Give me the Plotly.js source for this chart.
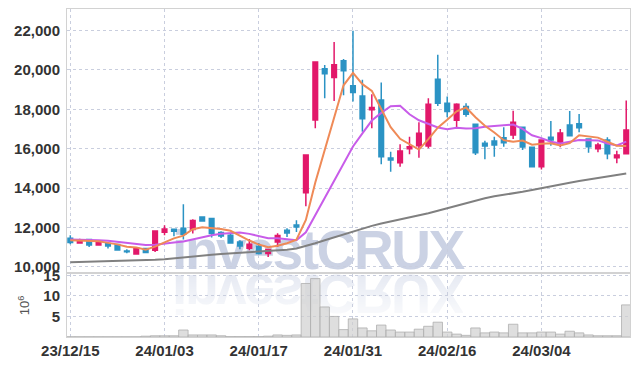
<!DOCTYPE html>
<html><head><meta charset="utf-8">
<script src="https://cdn.plot.ly/plotly-3.0.1.min.js"></script>
<style>
html,body{margin:0;padding:0;background:#fff;}
#wrap{position:relative;width:639px;height:366px;overflow:hidden;}
.wm{position:absolute;left:172px;font-family:"Liberation Sans",Arial,sans-serif;font-weight:bold;font-size:55px;line-height:55px;letter-spacing:-2.4px;white-space:nowrap;z-index:0;}
#wm1{top:223px;color:#cbd2e4;}
#wm2{top:266px;color:#dde2ee;transform:scaleY(-1);-webkit-mask-image:linear-gradient(to top,rgba(0,0,0,0.85),rgba(0,0,0,0.1));mask-image:linear-gradient(to top,rgba(0,0,0,0.85),rgba(0,0,0,0.1));}
#chart{position:absolute;left:0;top:0;width:639px;height:366px;z-index:1;}
</style></head>
<body>
<div id="wrap">
<div class="wm" id="wm1">investCRUX</div>
<div class="wm" id="wm2">investCRUX</div>
<div id="chart"></div>
</div>
<script>
const dates = ["23/12/15","23/12/18","23/12/19","23/12/20","23/12/21","23/12/22","23/12/26","23/12/27","23/12/28","24/01/02",
"24/01/03","24/01/04","24/01/05","24/01/08","24/01/09","24/01/10","24/01/11","24/01/12","24/01/15","24/01/16",
"24/01/17","24/01/18","24/01/19","24/01/22","24/01/23","24/01/24","24/01/25","24/01/26","24/01/29","24/01/30",
"24/01/31","24/02/01","24/02/02","24/02/05","24/02/06","24/02/07","24/02/08","24/02/13","24/02/14","24/02/15",
"24/02/16","24/02/19","24/02/20","24/02/21","24/02/22","24/02/23","24/02/26","24/02/27","24/02/28","24/02/29",
"24/03/04","24/03/05","24/03/06","24/03/07","24/03/08","24/03/11","24/03/12","24/03/13","24/03/14","24/03/15"];

const openP = [11450,11210,11384,11110,11180,11130,10800,10650,10926,10840,
11756,11910,11960,11894,12535,12453,11740,11603,11262,10942,
11043,10672,11262,11858,12126,13757,17457,20053,19610,20460,
19188,18679,17981,18475,15523,15283,15996,16149,16133,19528,
18307,17442,18134,17238,16271,16388,16556,16693,17086,16067,
15080,16577,16301,17202,17270,16490,15996,16439,15538,15741];

const highP = [11600,11420,11400,11330,11230,11150,10890,11008,10950,11830,
12112,11910,13181,12418,12570,12460,11807,11720,11350,11415,
11211,10900,11705,11960,12367,15676,20394,20241,21412,20547,
21987,19493,18765,19355,15843,16220,16607,17340,18561,20765,
18643,18307,18307,17238,16403,16607,17086,17930,17100,16067,
16460,17406,16999,17915,17762,16500,16301,16576,15894,18439];

const lowP = [11150,11180,11008,11080,10930,10850,10690,10650,10700,10750,
11603,11550,11384,11690,12300,11486,11466,11180,10890,10840,
10620,10500,11008,11517,11771,13080,17035,18561,18424,18714,
18388,16861,17035,15202,14825,15080,15711,15538,16016,18170,
17595,17086,17625,15675,15456,15589,16098,16490,15930,15080,
14947,16149,16067,16658,16831,15792,15813,15456,15253,15711];

const closeP = [11230,11380,11110,11300,11060,10855,10770,10957,10723,11820,
11924,11810,11650,12352,12331,11690,11568,11211,11059,11145,
10672,10875,11588,11720,12025,15676,20394,19799,20258,19950,
18846,17523,18083,15588,15421,15879,16098,16780,18256,18307,
17880,18256,17747,15792,16133,16184,16301,17340,16083,15080,
16439,16439,16795,16658,17065,16098,16184,15741,15675,16948];

const ma5 = [11349,11340,11320,11300,11216,11141,11019,10988,10873,11025,
11239,11447,11585,11911,12013,11967,11918,11830,11572,11335,
11131,10992,11068,11200,11376,12377,14281,15923,17630,19215,
19849,19275,18932,17998,17092,16499,16214,15953,16487,17064,
17464,17896,18089,17596,17162,16822,16431,16350,16408,16198,
16249,16276,16167,16282,16679,16611,16560,16349,16153,16129];

const ma10 = [11384,11380,11370,11350,11320,11270,11200,11140,11110,11121,
11190,11233,11287,11392,11519,11603,11683,11708,11742,11674,
11549,11455,11449,11386,11355,11754,12637,13495,14415,15296,
16113,16778,17427,17814,18154,18174,17745,17443,17242,17078,
16982,17055,17021,17042,17113,17143,17164,17220,17002,16680,
16536,16354,16259,16345,16438,16430,16418,16258,16167,16354];

const maLong = [10229,10240,10250,10260,10270,10280,10295,10310,10330,10355,
10382,10420,10460,10510,10560,10610,10650,10680,10710,10740,
10770,10800,10830,10870,10930,11050,11200,11350,11500,11650,
11800,11950,12080,12200,12300,12400,12500,12600,12720,12850,
12980,13120,13250,13380,13480,13580,13650,13730,13810,13900,
14000,14090,14180,14270,14360,14440,14520,14590,14660,14740];

const volume = [0.05,0.05,0.05,0.05,0.05,0.05,0.05,0.05,0.2,0.3,
0.3,0.3,1.7,0.5,0.5,0.5,0.3,0.1,0.1,0.1,
0.1,0.2,0.5,0.4,0.5,13.0,14.2,7.3,5.0,1.8,
4.4,2.2,1.5,2.9,1.7,1.2,1.2,1.9,2.6,3.6,
1.2,0.7,0.4,2.2,1.0,1.2,1.0,3.1,1.0,1.0,
1.2,1.2,0.7,1.4,1.0,0.5,0.3,0.3,0.3,7.8];

const xTicks = ["23/12/15","24/01/03","24/01/17","24/01/31","24/02/16","24/03/04"];
const priceTicks = [10000,12000,14000,16000,18000,20000,22000];
const volTicks = [5,10,15];

const UP = '#e2186a', DOWN = '#2b93c4';
const tickFont = {family:'"Liberation Sans Narrow", "Liberation Sans", sans-serif', size:15, color:'#333', weight:'bold'};

const traces = [
  {type:'bar', x:dates, y:volume, xaxis:'x2', yaxis:'y2',
   marker:{color:'rgba(208,208,208,0.7)', line:{color:'rgba(175,175,175,0.8)', width:1}}, hoverinfo:'skip'},
  {type:'scatter', mode:'lines', x:dates, y:maLong, line:{color:'#808080', width:2}, hoverinfo:'skip'},
  {type:'scatter', mode:'lines', x:dates, y:ma10, line:{color:'#c85ce9', width:2}, hoverinfo:'skip'},
  {type:'scatter', mode:'lines', x:dates, y:ma5, line:{color:'#ef8a57', width:2}, hoverinfo:'skip'},
  {type:'candlestick', x:dates, open:openP, high:highP, low:lowP, close:closeP,
   increasing:{line:{color:UP, width:1.5}, fillcolor:UP},
   decreasing:{line:{color:DOWN, width:1.5}, fillcolor:DOWN}, hoverinfo:'skip'}
];

const gridC = '#c9cede', lineC = '#d2d2d2';
const layout = {
  width:639, height:366,
  margin:{l:67, r:9, t:9, b:29},
  paper_bgcolor:'rgba(0,0,0,0)', plot_bgcolor:'rgba(0,0,0,0)',
  showlegend:false, bargap:0, boxgap:0.3,
  xaxis:{type:'category', anchor:'y', range:[-0.35,59.4], rangeslider:{visible:false},
    tickmode:'array', tickvals:xTicks, showticklabels:false,
    showgrid:true, gridcolor:gridC, griddash:'dot', gridwidth:1,
    showline:true, linecolor:lineC, mirror:true, zeroline:false},
  xaxis2:{type:'category', anchor:'y2', matches:'x', range:[-0.35,59.4],
    tickmode:'array', tickvals:xTicks, ticktext:xTicks, tickfont:tickFont,
    showgrid:true, gridcolor:gridC, griddash:'dot', gridwidth:1,
    showline:true, linecolor:lineC, mirror:true, zeroline:false, ticks:''},
  yaxis:{domain:[0.198,1], range:[9735,23090], tickmode:'array', tickvals:priceTicks,
    tickformat:',d', tickfont:tickFont, ticklabelstandoff:3,
    showgrid:true, gridcolor:gridC, griddash:'dot', gridwidth:1,
    showline:true, linecolor:lineC, mirror:true, zeroline:false},
  yaxis2:{domain:[0,0.192], range:[0,15.3], tickmode:'array', tickvals:volTicks,
    tickfont:tickFont, ticklabelstandoff:3,
    title:{text:'10<sup>6</sup>', font:{family:'"Liberation Sans", sans-serif', size:13, color:'#555'}, standoff:10},
    showgrid:true, gridcolor:gridC, griddash:'dot', gridwidth:1,
    showline:true, linecolor:lineC, mirror:true, zeroline:false}
};

Plotly.newPlot('chart', traces, layout, {displayModeBar:false, staticPlot:true});
</script>
</body></html>
